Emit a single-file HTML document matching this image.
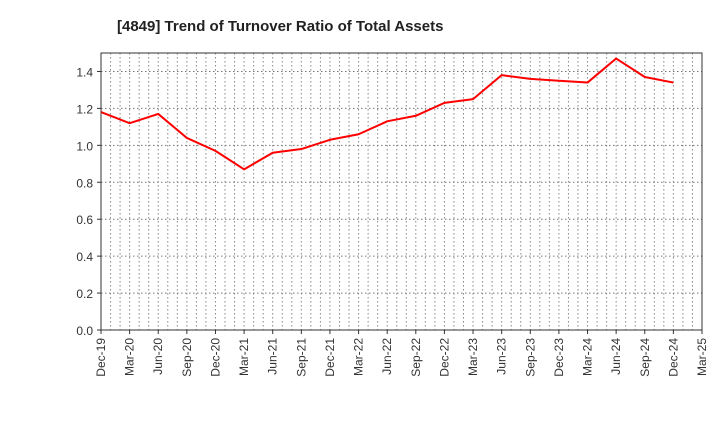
<!DOCTYPE html>
<html><head><meta charset="utf-8"><style>
body{margin:0;background:#fff;width:720px;height:440px;overflow:hidden}
svg text{font-family:"Liberation Sans",Arial,sans-serif}
</style></head><body>
<svg id="chart" width="720" height="440" xmlns="http://www.w3.org/2000/svg">
<text x="117" y="31" font-size="15" font-weight="bold" fill="#222">[4849]  Trend of Turnover Ratio of Total Assets</text>
<g id="grid"></g><g id="axes"></g><g id="series"></g>
</svg>
<script>
const categories=["Dec-19","Mar-20","Jun-20","Sep-20","Dec-20","Mar-21","Jun-21","Sep-21","Dec-21","Mar-22","Jun-22","Sep-22","Dec-22","Mar-23","Jun-23","Sep-23","Dec-23","Mar-24","Jun-24","Sep-24","Dec-24","Mar-25"];
const values=[1.18,1.12,1.17,1.04,0.97,0.87,0.96,0.98,1.03,1.06,1.13,1.16,1.23,1.25,1.38,1.36,1.35,1.34,1.47,1.37,1.34];
const yTicks=[0,0.2,0.4,0.6,0.8,1.0,1.2,1.4];
const L=101,R=702,T=53,B=330,yMax=1.5;
const n=categories.length-1;
const x=i=>L+(R-L)*i/n;
const y=v=>B-(B-T)*v/yMax;
const NS="http://www.w3.org/2000/svg";
function mk(tag,parent,attrs){const e=document.createElementNS(NS,tag);for(const k in attrs)e.setAttribute(k,attrs[k]);parent.appendChild(e);return e;}
const grid=document.getElementById('grid'),axes=document.getElementById('axes'),series=document.getElementById('series');
for(let m=1;m<n*3;m++){const xx=L+(R-L)*m/(n*3);
 const g=mk('line',grid,{x1:xx,x2:xx,y1:T,y2:B,stroke:'#888','stroke-dasharray':'1.5,2.5','stroke-width':1});
 
 }
yTicks.forEach(v=>{const yy=y(v);
 if(v>0){const g=mk('line',grid,{x1:L,x2:R,y1:yy,y2:yy,stroke:'#777','stroke-dasharray':'1.5,2.5','stroke-width':1});
 
 }
 const t=mk('text',axes,{x:L-8,y:yy+5,'text-anchor':'end','font-size':12,fill:'#333'});
 t.textContent=v.toFixed(1);
 
 
 mk('line',axes,{x1:L-4,x2:L,y1:yy,y2:yy,stroke:'#333'});
});
const frame=mk('rect',axes,{x:L,y:T,width:R-L,height:B-T,fill:'none',stroke:'#333','stroke-width':1});


categories.forEach((c,i)=>{const xx=x(i);
 mk('line',axes,{x1:xx,x2:xx,y1:B,y2:B+4,stroke:'#333'});
 const t=mk('text',axes,{transform:`translate(${xx+4},${B+8}) rotate(-90)`,'text-anchor':'end','font-size':12,fill:'#333'});
 t.textContent=c;
 
 
});
const pl=mk('polyline',series,{points:values.map((v,i)=>x(i)+','+y(v)).join(' '),fill:'none',stroke:'#ff0000','stroke-width':2,'stroke-linejoin':'round'});


</script>
</body></html>
